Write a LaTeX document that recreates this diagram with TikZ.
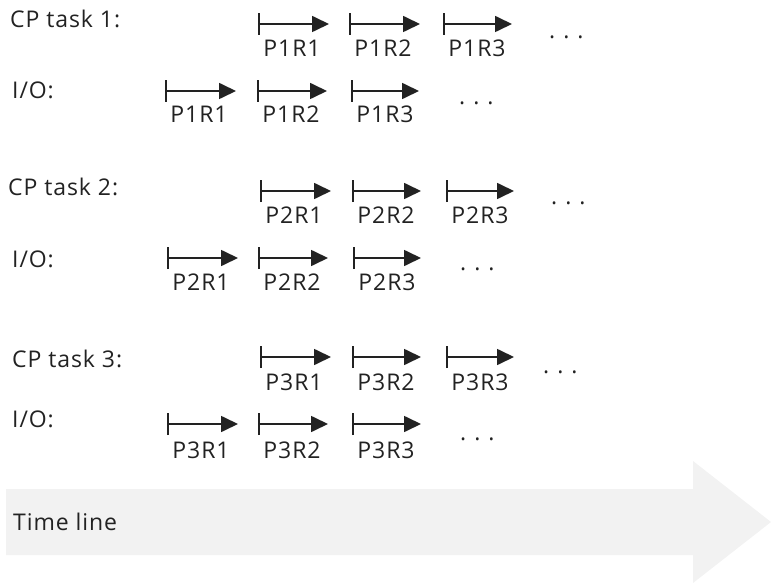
\documentclass[tikz,border=0pt]{standalone}
\usepackage{fontspec}
\setmainfont{Open Sans}[LetterSpace=4]
\usepackage{xcolor}
\usetikzlibrary{arrows.meta}

\definecolor{tlgray}{HTML}{F2F2F2}
\definecolor{ink}{HTML}{222222}

\tikzset{
  span/.style={ink, line width=1.7pt,
    {Bar[width=22pt,line width=2pt]}-{Triangle[length=17pt,width=16pt]}},
  lbl/.style={ink, anchor=base, inner sep=0pt, font=\fontsize{23}{27}\selectfont},
  head/.style={ink, anchor=base west, inner sep=0pt, font=\fontsize{23}{27}\selectfont},
  more/.style={ink, anchor=base west, inner sep=0pt, font=\fontsize{23}{27}\selectfont},
}
\newcommand{\moredots}{.\hspace{8pt}.\hspace{8pt}.}

\begin{document}
\begin{tikzpicture}[x=1pt,y=-1pt]
\useasboundingbox (0,0) rectangle (771,583);
% time line
\fill[tlgray] (6,489) -- (693,489) -- (693,461) -- (771,522) -- (693,583) -- (693,555) -- (6,555) -- cycle;
\node[head] (tl) at (13,530) {Time line};
% task 1
\node[head] (h1c) at (10,28) {CP task 1:};
\coordinate (c11s) at (258,24); \coordinate (c11e) at (329,24); \draw[span] (c11s) -- (c11e);
\node[lbl] (c11l) at (292,57) {P1R1};
\coordinate (c12s) at (349,24); \coordinate (c12e) at (420,24); \draw[span] (c12s) -- (c12e);
\node[lbl] (c12l) at (383,57) {P1R2};
\coordinate (c13s) at (443,24); \coordinate (c13e) at (512,24); \draw[span] (c13s) -- (c13e);
\node[lbl] (c13l) at (477,57) {P1R3};
\node[more] (c1d) at (549,39) {\moredots};
\node[head] (h1i) at (12,99) {I/O:};
\coordinate (i11s) at (165,91); \coordinate (i11e) at (236,91); \draw[span] (i11s) -- (i11e);
\node[lbl] (i11l) at (199,123) {P1R1};
\coordinate (i12s) at (257,91); \coordinate (i12e) at (327,91); \draw[span] (i12s) -- (i12e);
\node[lbl] (i12l) at (291,123) {P1R2};
\coordinate (i13s) at (351,91); \coordinate (i13e) at (419,91); \draw[span] (i13s) -- (i13e);
\node[lbl] (i13l) at (385,123) {P1R3};
\node[more] (i1d) at (459,105) {\moredots};
% task 2
\node[head] (h2c) at (8,195) {CP task 2:};
\coordinate (c21s) at (260,191); \coordinate (c21e) at (331,191); \draw[span] (c21s) -- (c21e);
\node[lbl] (c21l) at (294,223) {P2R1};
\coordinate (c22s) at (352,191); \coordinate (c22e) at (421,191); \draw[span] (c22s) -- (c22e);
\node[lbl] (c22l) at (386,223) {P2R2};
\coordinate (c23s) at (446,191); \coordinate (c23e) at (514,191); \draw[span] (c23s) -- (c23e);
\node[lbl] (c23l) at (480,223) {P2R3};
\node[more] (c2d) at (551,204) {\moredots};
\node[head] (h2i) at (12,267) {I/O:};
\coordinate (i21s) at (167,258); \coordinate (i21e) at (238,258); \draw[span] (i21s) -- (i21e);
\node[lbl] (i21l) at (201,290) {P2R1};
\coordinate (i22s) at (258,258); \coordinate (i22e) at (328,258); \draw[span] (i22s) -- (i22e);
\node[lbl] (i22l) at (292,290) {P2R2};
\coordinate (i23s) at (353,258); \coordinate (i23e) at (421,258); \draw[span] (i23s) -- (i23e);
\node[lbl] (i23l) at (387,290) {P2R3};
\node[more] (i2d) at (460,270) {\moredots};
% task 3
\node[head] (h3c) at (12,367) {CP task 3:};
\coordinate (c31s) at (260,357); \coordinate (c31e) at (331,357); \draw[span] (c31s) -- (c31e);
\node[lbl] (c31l) at (294,390) {P3R1};
\coordinate (c32s) at (352,357); \coordinate (c32e) at (421,357); \draw[span] (c32s) -- (c32e);
\node[lbl] (c32l) at (386,390) {P3R2};
\coordinate (c33s) at (446,357); \coordinate (c33e) at (514,357); \draw[span] (c33s) -- (c33e);
\node[lbl] (c33l) at (480,390) {P3R3};
\node[more] (c3d) at (543,373) {\moredots};
\node[head] (h3i) at (12,427) {I/O:};
\coordinate (i31s) at (167,424); \coordinate (i31e) at (238,424); \draw[span] (i31s) -- (i31e);
\node[lbl] (i31l) at (201,458) {P3R1};
\coordinate (i32s) at (258,424); \coordinate (i32e) at (328,424); \draw[span] (i32s) -- (i32e);
\node[lbl] (i32l) at (292,458) {P3R2};
\coordinate (i33s) at (352,424); \coordinate (i33e) at (421,424); \draw[span] (i33s) -- (i33e);
\node[lbl] (i33l) at (386,458) {P3R3};
\node[more] (i3d) at (460,440) {\moredots};
\end{tikzpicture}
\end{document}
